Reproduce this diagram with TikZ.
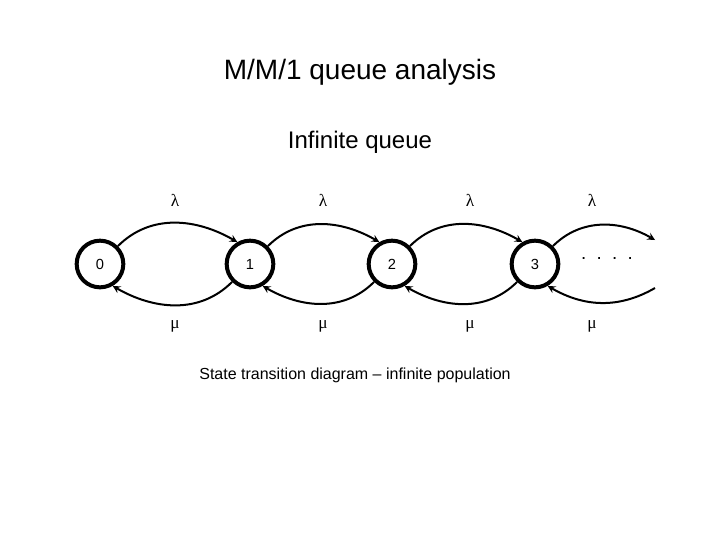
\documentclass[tikz,border=0pt]{standalone}
\usepackage{fontspec}
\setmainfont{Liberation Sans}
\newfontfamily\grk{Liberation Serif}
\begin{document}
\begin{tikzpicture}[x=0.75pt,y=-0.75pt,
 st/.style={circle,draw,line width=3pt,minimum size=35pt,inner sep=0pt,font=\fontsize{11}{13}\selectfont},
 ar/.style={-stealth,line width=1.5pt},
 lb/.style={font=\grk\fontsize{13}{15}\selectfont}]
\useasboundingbox (0,0) rectangle (720,540);
\node[font=\fontsize{21}{25}\selectfont] (t) at (360,72) {M/M/1 queue analysis};
\node[font=\fontsize{18}{22}\selectfont] (s) at (360,142) {Infinite queue};
\node[font=\fontsize{12}{14}\selectfont] (c) at (355,375) {State transition diagram -- infinite population};
\node[st] (n0) at (100,264) {0};
\node[st] (n1) at (250,264) {1};
\node[st] (n2) at (392,264) {2};
\node[st] (n3) at (535,264) {3};
\coordinate (e1) at (655,240);
\coordinate (e2) at (655,288);
\node[font=\fontsize{14}{14}\selectfont] (d) at (607,258) {.\ \ .\ \ .\ \ .};
\draw[ar] (n0.45) to[out=45,in=150] (n1.120);
\draw[ar] (n1.45) to[out=45,in=150] (n2.120);
\draw[ar] (n2.45) to[out=45,in=150] (n3.120);
\draw[ar] (n3.45) to[out=45,in=150] (e1);
\draw[ar] (n1.-135) to[out=-135,in=-30] (n0.-60);
\draw[ar] (n2.-135) to[out=-135,in=-30] (n1.-60);
\draw[ar] (n3.-135) to[out=-135,in=-30] (n2.-60);
\draw[ar] (e2) to[out=-150,in=-30] (n3.-60);
\foreach \x/\n in {175/1,323/2,470/3,592/4}{
 \node[lb] (l\n) at (\x,200) {λ};
 \node[lb] (m\n) at (\x,326) {μ};}
\end{tikzpicture}
\end{document}
